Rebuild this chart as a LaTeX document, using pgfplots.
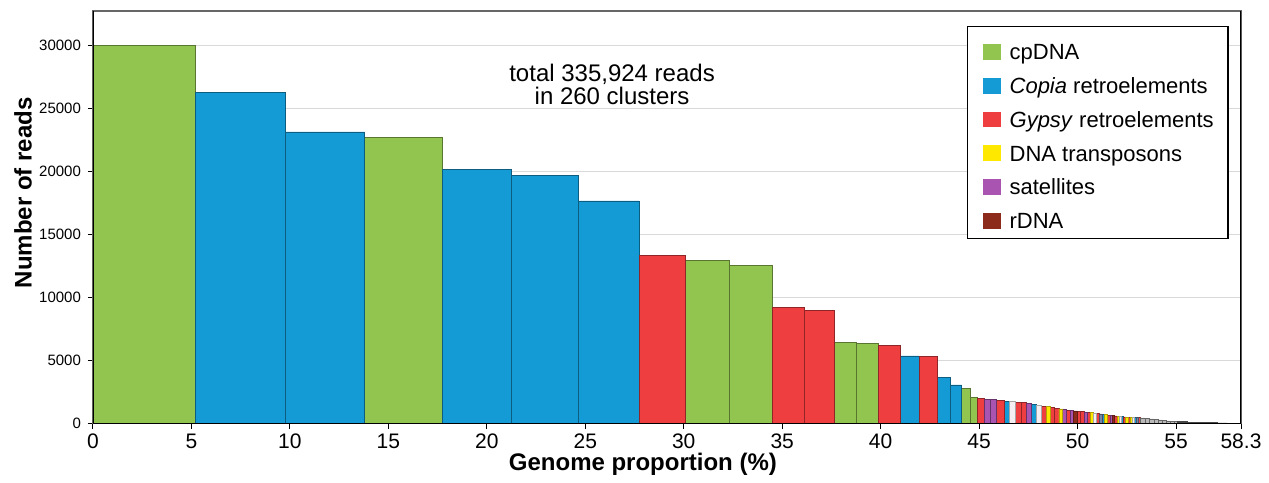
\documentclass[border=0pt]{standalone}
\usepackage{fontspec}
\setmainfont{Liberation Sans}
\usepackage{pgfplots}
\pgfplotsset{compat=1.18}
\definecolor{cg}{RGB}{146,197,80}
\definecolor{cb}{RGB}{20,155,214}
\definecolor{cr}{RGB}{238,62,64}
\definecolor{cy}{RGB}{255,232,0}
\definecolor{cp}{RGB}{168,84,176}
\definecolor{cd}{RGB}{140,42,28}
\definecolor{cw}{RGB}{244,238,242}
\definecolor{cs}{RGB}{118,134,166}
\definecolor{cgr}{RGB}{185,185,185}
\definecolor{ck}{RGB}{70,70,70}
\begin{document}
\begin{tikzpicture}
\useasboundingbox (-46.5pt,-29.25pt) rectangle (588pt,211.75pt);
\begin{axis}[
  at={(0,0)}, anchor=south west,
  scale only axis, width=574pt, height=206.25pt,
  xmin=0, xmax=58.3, ymin=0, ymax=32700,
  xtick={0,5,10,15,20,25,30,35,40,45,50,55,58.3},
  xticklabels={0,5,10,15,20,25,30,35,40,45,50,55,58.3},
  ytick={0,5000,10000,15000,20000,25000,30000},
  scaled y ticks=false,
  yticklabels={0,5000,10000,15000,20000,25000,30000},
  /pgf/number format/assume math mode=true,
  xticklabel style={font=\fontsize{10.5}{12}\selectfont, yshift=1pt},
  yticklabel style={font=\fontsize{7.5}{9}\selectfont},
  tick align=outside, major tick length=2.5pt,
  tick style={black, line width=0.5pt},
  xtick pos=bottom, ytick pos=left,
  ymajorgrids, major grid style={line width=0.4pt, gray!30},
  axis line style={line width=0.6pt, black!60},
  xlabel={Genome proportion (\%)},
  ylabel={Number of reads},
  xlabel style={font=\fontsize{12}{14}\selectfont\bfseries, at={(axis description cs:0.479,0)}, anchor=center, yshift=-20.5pt},
  ylabel style={font=\fontsize{12}{14}\selectfont\bfseries, at={(axis description cs:0,0.559)}, anchor=center, yshift=35pt},
  legend cell align=left,
  legend style={at={(axis description cs:0.761,0.964)}, anchor=north west, draw=black, line width=0.6pt, fill=white,
    font=\fontsize{11}{13}\selectfont, inner xsep=5pt, inner ysep=2.3pt,
    nodes={text height=12.2pt, text depth=0.5pt, inner sep=2.1pt}},
  legend image code/.code={\path (0pt,0pt) (13.5pt,0pt); \fill[#1, draw=none] (2.5pt,-5.9pt) rectangle (11.5pt,2.0pt);},
]
% cpDNA
\addplot[fill=cg, draw=cg!60!black, line width=0.35pt, forget plot] coordinates {
(0,0)(0,30000)(5.22,30000)(5.22,0)
(13.80,0)(13.80,22680)(17.74,22680)(17.74,0)
(30.07,0)(30.07,12900)(32.30,12900)(32.30,0)
(32.30,0)(32.30,12500)(34.50,12500)(34.50,0)
(37.65,0)(37.65,6440)(38.79,6440)(38.79,0)
(38.79,0)(38.79,6370)(39.88,6370)(39.88,0)
(44.11,0)(44.11,2790)(44.58,2790)(44.58,0)
(44.58,0)(44.58,2080)(44.91,2080)(44.91,0)
};
% Copia
\addplot[fill=cb, draw=cb!60!black, line width=0.35pt, forget plot] coordinates {
(5.22,0)(5.22,26250)(9.77,26250)(9.77,0)
(9.77,0)(9.77,23110)(13.80,23110)(13.80,0)
(17.74,0)(17.74,20140)(21.24,20140)(21.24,0)
(21.24,0)(21.24,19670)(24.67,19670)(24.67,0)
(24.67,0)(24.67,17640)(27.73,17640)(27.73,0)
(41.02,0)(41.02,5360)(41.97,5360)(41.97,0)
(42.90,0)(42.90,3630)(43.54,3630)(43.54,0)
(43.54,0)(43.54,3060)(44.11,3060)(44.11,0)
(46.26,0)(46.26,1760)(46.55,1760)(46.55,0)
(47.67,0)(47.67,1480)(47.92,1480)(47.92,0)
(51.24,0)(51.24,730)(51.38,730)(51.38,0)
(52.23,0)(52.23,540)(52.34,540)(52.34,0)
(52.87,0)(52.87,460)(52.97,460)(52.97,0)
};
% Gypsy
\addplot[fill=cr, draw=cr!60!black, line width=0.35pt, forget plot] coordinates {
(27.73,0)(27.73,13290)(30.07,13290)(30.07,0)
(34.50,0)(34.50,9220)(36.11,9220)(36.11,0)
(36.11,0)(36.11,8930)(37.65,8930)(37.65,0)
(39.88,0)(39.88,6170)(41.02,6170)(41.02,0)
(41.97,0)(41.97,5300)(42.90,5300)(42.90,0)
(44.91,0)(44.91,1960)(45.26,1960)(45.26,0)
(45.90,0)(45.90,1840)(46.26,1840)(46.26,0)
(46.83,0)(46.83,1690)(47.12,1690)(47.12,0)
(47.12,0)(47.12,1640)(47.40,1640)(47.40,0)
(48.16,0)(48.16,1380)(48.40,1380)(48.40,0)
(48.62,0)(48.62,1260)(48.84,1260)(48.84,0)
(48.84,0)(48.84,1200)(49.05,1200)(49.05,0)
(49.44,0)(49.44,1060)(49.63,1060)(49.63,0)
(49.99,0)(49.99,970)(50.16,970)(50.16,0)
(50.16,0)(50.16,940)(50.33,940)(50.33,0)
(50.49,0)(50.49,880)(50.65,880)(50.65,0)
(50.95,0)(50.95,790)(51.09,790)(51.09,0)
(51.51,0)(51.51,670)(51.64,670)(51.64,0)
(51.89,0)(51.89,600)(52.01,600)(52.01,0)
(52.34,0)(52.34,520)(52.45,520)(52.45,0)
(52.56,0)(52.56,490)(52.67,490)(52.67,0)
(53.07,0)(53.07,450)(53.17,450)(53.17,0)
};
% satellites
\addplot[fill=cp, draw=cp!60!black, line width=0.35pt, forget plot] coordinates {
(45.26,0)(45.26,1900)(45.58,1900)(45.58,0)
(45.58,0)(45.58,1880)(45.90,1880)(45.90,0)
(47.40,0)(47.40,1570)(47.67,1570)(47.67,0)
(49.25,0)(49.25,1100)(49.44,1100)(49.44,0)
(49.63,0)(49.63,1030)(49.81,1030)(49.81,0)
(50.33,0)(50.33,910)(50.49,910)(50.49,0)
(51.64,0)(51.64,650)(51.77,650)(51.77,0)
};
% DNA transposons
\addplot[fill=cy, draw=cy!70!black, line width=0.35pt, forget plot] coordinates {
(48.40,0)(48.40,1330)(48.62,1330)(48.62,0)
(49.05,0)(49.05,1150)(49.25,1150)(49.25,0)
(50.65,0)(50.65,850)(50.80,850)(50.80,0)
(51.38,0)(51.38,700)(51.51,700)(51.51,0)
(52.01,0)(52.01,580)(52.12,580)(52.12,0)
(52.45,0)(52.45,500)(52.56,500)(52.56,0)
(52.67,0)(52.67,480)(52.77,480)(52.77,0)
};
% rDNA
\addplot[fill=cd, draw=cd!70!black, line width=0.35pt, forget plot] coordinates {
(49.81,0)(49.81,1000)(49.99,1000)(49.99,0)
(51.77,0)(51.77,620)(51.89,620)(51.89,0)
};
% light (unclassified) clusters
\addplot[fill=cw, draw=gray!70, line width=0.35pt, forget plot] coordinates {
(46.55,0)(46.55,1720)(46.83,1720)(46.83,0)
(47.92,0)(47.92,1420)(48.16,1420)(48.16,0)
(50.80,0)(50.80,820)(50.95,820)(50.95,0)
(52.12,0)(52.12,560)(52.23,560)(52.23,0)
(52.77,0)(52.77,470)(52.87,470)(52.87,0)
};
\addplot[fill=cs, draw=cs!60!black, line width=0.35pt, forget plot] coordinates {
(51.09,0)(51.09,760)(51.24,760)(51.24,0)
(52.97,0)(52.97,455)(53.07,455)(53.07,0)
};
\addplot[fill=cgr, draw=gray!80!black, line width=0.35pt, forget plot] coordinates {
(53.17,0)(53.17,440)(53.42,440)(53.42,0)
(53.42,0)(53.42,400)(53.66,400)(53.66,0)
(53.66,0)(53.66,360)(53.89,360)(53.89,0)
(53.89,0)(53.89,320)(54.11,320)(54.11,0)
(54.11,0)(54.11,280)(54.32,280)(54.32,0)
(54.32,0)(54.32,240)(54.52,240)(54.52,0)
(54.52,0)(54.52,210)(54.71,210)(54.71,0)
(54.71,0)(54.71,180)(54.89,180)(54.89,0)
(54.89,0)(54.89,160)(55.06,160)(55.06,0)
};
\addplot[fill=ck, draw=ck, line width=0.35pt, forget plot] coordinates {
(55.06,0)(55.06,140)(55.6,140)(55.6,110)(56.1,110)(56.1,85)(56.6,85)(56.6,60)(57.1,60)(57.1,40)(57.6,40)(57.6,20)(58.0,20)(58.0,8)(58.3,8)(58.3,0)
};
\addlegendimage{fill=cg}
\addlegendentry{cpDNA}
\addlegendimage{fill=cb}
\addlegendentry{\textit{Copia} retroelements}
\addlegendimage{fill=cr}
\addlegendentry{\textit{Gypsy} retroelements}
\addlegendimage{fill=cy}
\addlegendentry{DNA transposons}
\addlegendimage{fill=cp}
\addlegendentry{satellites}
\addlegendimage{fill=cd}
\addlegendentry{rDNA}
\node[align=center, font=\fontsize{12}{11.5}\selectfont] at (axis cs:26.36,26900) {total 335,924 reads\\in 260 clusters};
\draw[line width=0.6pt, black] (rel axis cs:0,0) -- (rel axis cs:1,0);
\draw[line width=0.6pt, black] (rel axis cs:0,0) -- (rel axis cs:0,1);
\draw[line width=0.6pt, black] (rel axis cs:1,0) -- (rel axis cs:1,1);
\end{axis}
\end{tikzpicture}
\end{document}
